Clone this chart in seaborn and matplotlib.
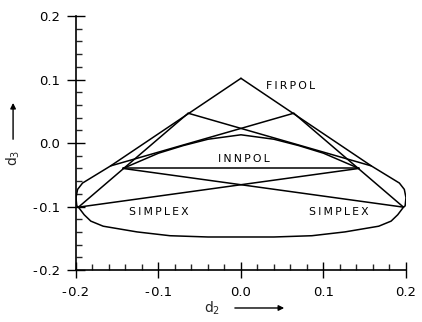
import numpy as np
import pandas as pd
import matplotlib
matplotlib.use("Agg")
import matplotlib.pyplot as plt
import seaborn as sns
from matplotlib.ticker import MultipleLocator, FuncFormatter

# =========================
# DATA
# =========================
# outer boundary, right half from the apex down and round the bottom
outer_right_x = [0.0, 0.158, 0.192, 0.198, 0.200, 0.199, 0.197, 0.190, 0.182, 0.167, 0.126, 0.086, 0.040, 0.0]
outer_right_y = [0.102, -0.036, -0.063, -0.073, -0.086, -0.099, -0.101, -0.113, -0.123, -0.131, -0.140, -0.146, -0.148, -0.148]

# INNPOL arch (right half, symmetric)
arch_x = [0.0, 0.040, 0.070, 0.100, 0.143]
arch_y = [0.013, 0.006, -0.004, -0.016, -0.040]

# named corner points (right side, mirrored for the left)
pt_b = (0.064, 0.047)
pt_p = (0.158, -0.036)
pt_q = (0.143, -0.040)
pt_e = (0.197, -0.101)

labels = ["FIRPOL", "INNPOL", "SIMPLEX", "SIMPLEX"]
label_x = [0.030, 0.003, -0.100, 0.118]
label_y = [0.090, -0.025, -0.109, -0.109]

ticks = [-0.2, -0.1, 0.0, 0.1, 0.2]

# =========================
# BUILD PATHS
# =========================
def mirror(p):
    return (-p[0], p[1])

def spaced(s):
    # the original lettering is widely spaced
    return "\u2009".join(s)

outer_x = outer_right_x + [-v for v in outer_right_x[::-1]]
outer_y = outer_right_y + outer_right_y[::-1]
arch_full_x = [-v for v in arch_x[::-1]] + arch_x[1:]
arch_full_y = arch_y[::-1] + arch_y[1:]

segments = [
    (mirror(pt_b), pt_p), (pt_b, mirror(pt_p)),
    (mirror(pt_e), mirror(pt_b)), (pt_e, pt_b),
    (mirror(pt_e), pt_q), (pt_e, mirror(pt_q)),
    (mirror(pt_q), pt_q),
]

# =========================
# PLOT
# =========================
sns.set_theme(style="ticks")
plt.rcParams["font.family"] = ["DejaVu Sans"]
plt.rcParams["axes.unicode_minus"] = False

fig = plt.figure(figsize=(4.22, 3.22), dpi=100)
ax = fig.add_axes([0.180, 0.1615, 0.782, 0.7885])

lw = 1.1
sns.lineplot(x=outer_x, y=outer_y, sort=False, estimator=None, color="black", lw=lw, ax=ax)
sns.lineplot(x=arch_full_x, y=arch_full_y, sort=False, estimator=None, color="black", lw=lw, ax=ax)
for p0, p1 in segments:
    sns.lineplot(x=[p0[0], p1[0]], y=[p0[1], p1[1]], sort=False, estimator=None,
                 color="black", lw=lw, ax=ax)

for t, x, y in zip(labels, label_x, label_y):
    ha = "left" if t == "FIRPOL" else "center"
    ax.text(x, y, spaced(t), fontsize=7.8, ha=ha, va="center", color="black")

ax.set_xlim(-0.2, 0.2)
ax.set_ylim(-0.2, 0.2)
ax.set_xticks(ticks)
ax.set_yticks(ticks)
fmt = FuncFormatter(lambda v, pos: f"{v:.1f}".replace("-", "-\u200a"))
ax.xaxis.set_major_formatter(fmt)
ax.yaxis.set_major_formatter(fmt)
ax.xaxis.set_minor_locator(MultipleLocator(0.02))
ax.yaxis.set_minor_locator(MultipleLocator(0.02))
ax.tick_params(which="major", direction="inout", width=1.0,
               labelsize=9.5, colors="black")
ax.tick_params(axis="x", which="major", length=11, pad=6)
ax.tick_params(axis="y", which="major", length=13, pad=5)
ax.tick_params(which="minor", direction="in", length=4, width=1.0)
for s in ["top", "right"]:
    ax.spines[s].set_visible(False)
for s in ["left", "bottom"]:
    ax.spines[s].set_linewidth(1.2)
    ax.spines[s].set_color("black")
ax.set_xlabel("")
ax.set_ylabel("")

# axis titles with arrows
fig.text(0.502, 0.0435, "d$_2$", fontsize=10, ha="center", va="center")
ax.annotate("", xy=(0.680, 0.0435), xytext=(0.550, 0.0435), xycoords="figure fraction",
            arrowprops=dict(arrowstyle="-|>", color="black", lw=1.0, mutation_scale=8))
fig.text(0.031, 0.509, "d$_3$", fontsize=10, ha="center", va="center", rotation=90)
ax.annotate("", xy=(0.031, 0.689), xytext=(0.031, 0.559), xycoords="figure fraction",
            arrowprops=dict(arrowstyle="-|>", color="black", lw=1.0, mutation_scale=8))

fig.savefig("out.png", dpi=100)
